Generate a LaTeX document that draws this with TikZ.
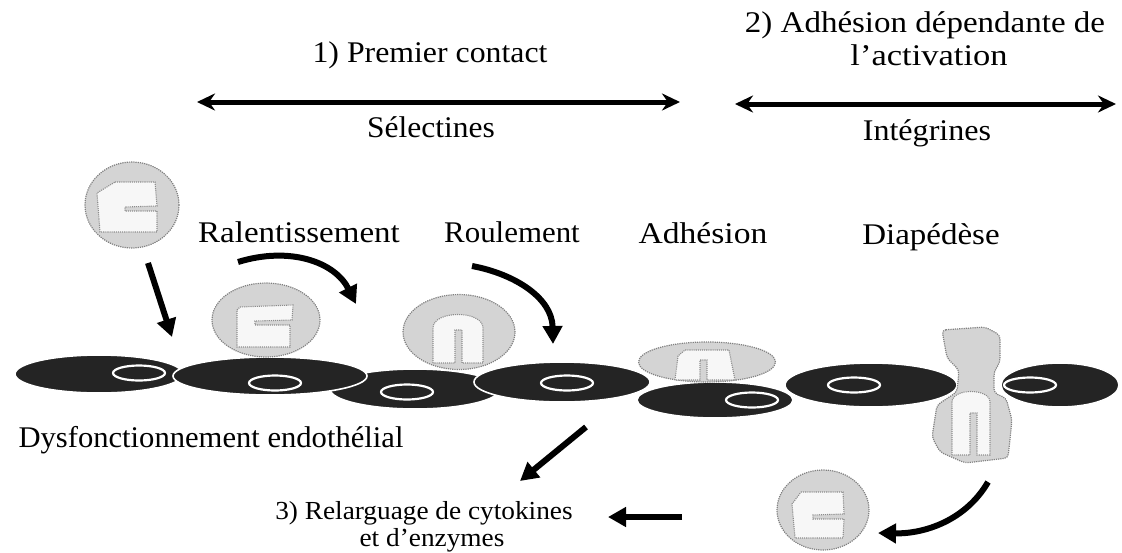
\documentclass[tikz,border=0pt]{standalone}
\usepackage{fontspec}
\setmainfont{Liberation Serif}
\usetikzlibrary{arrows.meta,shapes.geometric}
% horizontal stretch of a label
\newcommand\stretchtext[2]{\scalebox{#1}[1]{#2}}
\begin{document}
\begin{tikzpicture}[x=1pt,y=-1pt,
  lbl/.style={font=\fontsize{30}{31}\selectfont, inner sep=0pt, anchor=base},
  lblsmall/.style={font=\fontsize{26}{27}\selectfont, inner sep=0pt, anchor=base},
  endo/.style={ellipse, fill=black!86, draw=white, line width=1.6pt, inner sep=0pt},
  endonuc/.style={ellipse, fill=black!86, draw=white, line width=2.2pt, inner sep=0pt,
    minimum width=52pt, minimum height=15pt},
  cellbody/.style={ellipse, fill=black!17, draw=black!50, densely dotted, line width=1.2pt, inner sep=0pt},
  nuc/.style={fill=black!3, draw=black!45, densely dotted, line width=1.1pt},
  span/.style={line width=5pt, {Stealth[length=18pt,width=17pt]}-{Stealth[length=18pt,width=17pt]}},
  move/.style={line width=6pt, -{Triangle[length=18pt,width=19pt]}}
]
\useasboundingbox (0,0) rectangle (1122,552);

% ---- stages and adhesion molecules ----
\node[lbl] (premier) at (430,62) {\stretchtext{1.06}{1) Premier contact}};
\coordinate (s1a) at (197,102);
\coordinate (s1b) at (680,102);
\draw[span] (s1a) -- (s1b);
\node[lbl] (selectines) at (431,137) {\stretchtext{1.05}{Sélectines}};

\node[lbl] (activ1) at (925,32) {\stretchtext{1.1}{2) Adhésion dépendante de}};
\node[lbl] (activ2) at (929,65) {\stretchtext{1.15}{l’activation}};
\coordinate (s2a) at (735,104);
\coordinate (s2b) at (1116,104);
\draw[span] (s2a) -- (s2b);
\node[lbl] (integrines) at (927,140) {\stretchtext{1.07}{Intégrines}};

% ---- step labels ----
\node[lbl] (ralent) at (299,242) {\stretchtext{1.1}{Ralentissement}};
\node[lbl] (roul) at (512,242) {\stretchtext{1.03}{Roulement}};
\node[lbl] (adh) at (703,243) {\stretchtext{1.12}{Adhésion}};
\node[lbl] (diap) at (931,244) {\stretchtext{1.1}{Diapédèse}};
\node[lbl] (dysf) at (211,447) {\stretchtext{1.02}{Dysfonctionnement endothélial}};
\node[lblsmall] (relarg1) at (424,519) {\stretchtext{1.05}{3) Relarguage de cytokines}};
\node[lblsmall] (relarg2) at (432,546) {\stretchtext{1.05}{et d’enzymes}};

% ---- endothelial layer ----
\node[endo, minimum width=168pt, minimum height=38pt] (e1) at (99,374) {};
\node[endo, minimum width=170pt, minimum height=40pt] (e3) at (415,389) {};
\node[endo, minimum width=194pt, minimum height=38pt] (e2) at (270,376) {};
\node[endo, minimum width=176pt, minimum height=40pt] (e4) at (562,382) {};
\node[endo, minimum width=172pt, minimum height=44pt] (e6) at (871,385) {};
\node[endo, minimum width=118pt, minimum height=44pt] (e7) at (1060,385) {};
\node[endo, minimum width=156pt, minimum height=36pt] (e5) at (715,400) {};

\node[endonuc] (n1) at (139,373) {};
\node[endonuc] (n2) at (275,383) {};
\node[endonuc] (n3) at (407,392) {};
\node[endonuc] (n4) at (567,383) {};
\node[endonuc] (n5) at (752,400) {};
\node[endonuc] (n6) at (854,385) {};
\node[endonuc] (n7) at (1030,385) {};

% ---- leukocytes ----
% free leukocyte
\node[cellbody, minimum width=94pt, minimum height=86pt] (c1) at (132,205) {};
\path[nuc, shift={(132,205)}] (-17,-23) -- (23,-23) -- (25,1) -- (-7,2) -- (-7,6) -- (25,6)
  -- (25,27) -- (-32,27) -- (-35,-12) -- cycle;
% slowing down
\node[cellbody, minimum width=108pt, minimum height=74pt] (c2) at (266,320) {};
\path[nuc, shift={(266,320)}] (-26,-13) -- (27,-15) -- (26,0) -- (-11,1) -- (-11,5) -- (24,5)
  -- (24,27) -- (-29,27) -- (-29,-10) -- cycle;
% rolling
\node[cellbody, minimum width=112pt, minimum height=75pt] (c3) at (459,332) {};
\path[nuc, shift={(459,332)}] (-26,31) -- (-26,-4) .. controls (-26,-22) and (24,-22) .. (24,-4)
  -- (24,31) -- (3,31) -- (3,-2) -- (-4,-2) -- (-4,31) -- cycle;
% firm adhesion
\node[cellbody, minimum width=137pt, minimum height=40pt] (c4) at (707,362) {};
\path[nuc, shift={(707,362)}] (-32,18) -- (-29,-6) -- (-22,-12) -- (22,-12) -- (28,18)
  -- (0,18) -- (0,-2) -- (-7,-2) -- (-7,18) -- cycle;
% transmigrating leukocyte
\path[fill=black!17, draw=black!50, densely dotted, line width=1.2pt, rounded corners=4pt]
  (942,330) -- (985,327) -- (1000,335) -- (1000,362) -- (994,372) -- (994,393)
  -- (1006,398) -- (1012,420) -- (1008,458) -- (965,463) -- (940,452) -- (932,437)
  -- (937,405) -- (957,392) -- (959,370) -- (947,358) -- cycle;
\coordinate (c5) at (972,420);
\path[nuc] (952,455) -- (952,402) .. controls (952,388) and (990,388) .. (990,402)
  -- (990,455) -- (977,455) -- (977,413) -- (970,413) -- (970,455) -- cycle;
% activated leukocyte below
\node[cellbody, minimum width=92pt, minimum height=80pt] (c6) at (823,510) {};
\path[nuc, shift={(823,510)}] (-22,-18) -- (20,-18) -- (21,4) -- (-10,5) -- (-10,9) -- (21,9)
  -- (20,28) -- (-28,28) -- (-31,-6) -- cycle;

% ---- movement arrows ----
\coordinate (a0s) at (148,263);  \coordinate (a0e) at (172,337);
\draw[move] (a0s) -- (a0e);
\coordinate (a1s) at (238,262);  \coordinate (a1e) at (356,304);
\draw[move] (a1s) .. controls (290,246) and (335,262) .. (a1e);
\coordinate (a2s) at (472,266);  \coordinate (a2e) at (553,344);
\draw[move] (a2s) .. controls (515,274) and (552,298) .. (a2e);
\coordinate (a3s) at (586,427);  \coordinate (a3e) at (520,481);
\draw[move] (a3s) -- (a3e);
\coordinate (a4s) at (988,482);  \coordinate (a4e) at (878,533);
\draw[move] (a4s) .. controls (966,520) and (925,534) .. (a4e);
\coordinate (a5s) at (682,517);  \coordinate (a5e) at (608,517);
\draw[move] (a5s) -- (a5e);
\end{tikzpicture}
\end{document}
